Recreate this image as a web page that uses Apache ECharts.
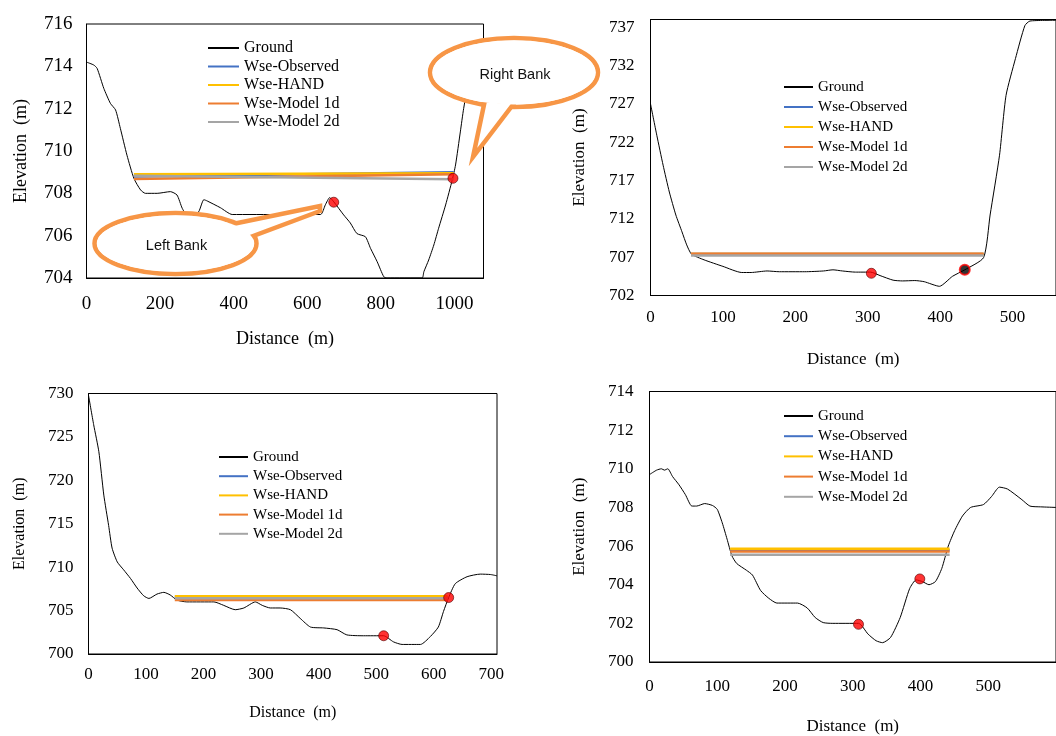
<!DOCTYPE html>
<html>
<head>
<meta charset="utf-8">
<title>Cross sections</title>
<script src="https://cdn.jsdelivr.net/npm/echarts@6/dist/echarts.min.js"></script>
<style>
  html, body { margin: 0; padding: 0; background: #fff; }
  #chart { width: 1056px; height: 736px; }
</style>
</head>
<body>
<div id="chart"></div>
<script>
// ---- section 1 (top left) ----
var p1Dist = [0, 20, 29, 47, 65, 79, 92, 110, 129, 147, 160, 192, 228, 246, 260, 272, 292, 305, 319, 328, 364, 396, 527, 636, 649, 661, 672, 699, 717, 735, 758, 772, 790, 808, 817, 912, 917, 930, 944, 957, 976, 994, 1003, 1016, 1025, 1045, 1065, 1079];
var p1Ground = [714.2, 714.06, 713.9, 712.96, 712.25, 711.94, 711.07, 709.8, 708.7, 708.16, 708.0, 708.0, 708.08, 707.92, 707.3, 707.0, 707.0, 707.13, 707.7, 707.64, 707.32, 707.0, 707.0, 707.0, 707.45, 707.8, 707.6, 706.98, 706.6, 706.1, 705.95, 705.4, 704.77, 704.06, 704.0, 704.0, 704.3, 704.85, 705.56, 706.35, 707.45, 708.63, 709.34, 710.9, 712.0, 713.9, 715.0, 715.3];
var p1Edges = [129, 998];
var p1Observed = [708.79, 709.0];
var p1Hand = [708.9, 708.95];
var p1Model1d = [708.68, 708.9];
var p1Model2d = [708.83, 708.66];
var p1Banks = [[672, 707.58], [996, 708.71]];

// ---- section 2 (top right) ----
var p2Dist = [0, 8.7, 17.4, 26, 35, 43.5, 50, 56.6, 74, 100, 126, 139, 161, 178, 213, 239, 252, 265, 283, 304, 317, 335, 348, 365, 378, 399, 417, 434, 460, 469, 482, 491, 504, 517, 524, 560];
var p2Ground = [727, 722.9, 719.0, 715.5, 712.5, 710.3, 708.6, 707.4, 706.65, 705.8, 705.0, 705.0, 705.2, 705.1, 705.1, 705.2, 705.35, 705.2, 705.05, 705.05, 704.6, 704.0, 703.9, 703.95, 703.8, 703.2, 704.5, 705.35, 706.95, 712.5, 720.3, 728.1, 732.9, 737.2, 737.8, 737.9];
var p2Edges = [56, 460];
var p2Observed = [707.42, 707.42];
var p2Hand = [707.42, 707.42];
var p2Model1d = [707.46, 707.46];
var p2Model2d = [707.22, 707.22];
var p2Banks = [[305, 704.9], [434, 705.35]];

// ---- section 3 (bottom left) ----
var p3Dist = [0, 9, 18, 26.6, 35, 41, 50, 61, 73, 84.5, 96, 105, 119, 131, 142, 154, 171, 218, 235, 255, 270, 290, 302, 316, 333, 351, 368, 386, 409, 432, 449, 478, 513, 530, 545, 577, 594, 608, 617, 626, 637.5, 658, 681, 699, 710];
var p3Ground = [729.8, 726.4, 723.3, 718.3, 714.8, 712.2, 710.6, 709.7, 708.7, 707.6, 706.7, 706.4, 706.9, 707.1, 706.8, 706.2, 706.0, 706.0, 705.6, 705.1, 705.3, 706.0, 705.6, 705.3, 705.3, 705.1, 704.1, 703.1, 703.0, 702.8, 702.2, 702.1, 702.1, 701.4, 701.1, 701.1, 702.0, 703.1, 704.9, 706.5, 708.1, 708.9, 709.2, 709.15, 709.0];
var p3Edges = [150, 624];
var p3Observed = [706.55, 706.55];
var p3Hand = [706.65, 706.65];
var p3Model1d = [706.22, 706.22];
var p3Model2d = [706.42, 706.42];
var p3Banks = [[513, 702.1], [626, 706.5]];

// ---- section 4 (bottom right) ----
var p4Dist = [0, 10.5, 17.6, 22, 27, 34, 43.6, 53, 62.5, 69.5, 81.5, 93, 100, 107.4, 114.5, 121.6, 128.7, 143, 152, 164, 176, 188, 218.5, 232.7, 244.6, 256.4, 270.6, 308.5, 322.7, 334.5, 344, 355.8, 370, 384, 393.6, 403, 412.5, 422, 431.4, 441, 450.4, 462, 474, 493, 505, 516.5, 528.5, 549.7, 561.5, 577, 600];
var p4Ground = [709.7, 709.93, 710.0, 709.93, 710.0, 709.6, 709.17, 708.66, 708.07, 708.07, 708.2, 708.1, 707.9, 707.2, 706.36, 705.5, 705.1, 704.75, 704.5, 703.7, 703.3, 703.05, 703.05, 702.8, 702.3, 702.04, 702.0, 702.0, 701.44, 701.1, 701.0, 701.27, 702.3, 703.8, 704.25, 704.16, 704.0, 704.16, 704.84, 706.0, 706.8, 707.56, 708.0, 708.15, 708.57, 709.05, 708.95, 708.4, 708.07, 708.03, 708.0];
var p4Edges = [119, 443];
var p4Observed = [705.78, 705.78];
var p4Hand = [705.86, 705.86];
var p4Model1d = [705.72, 705.72];
var p4Model2d = [705.55, 705.55];
var p4Banks = [[308.5, 701.95], [399, 704.3]];

var seriesNames = ['Ground', 'Wse-Observed', 'Wse-HAND', 'Wse-Model 1d', 'Wse-Model 2d'];
var wseColors = ['#4472C4', '#FFC000', '#ED7D31', '#A5A5A5'];

var serif = 'Liberation Serif';
var chart = echarts.init(document.getElementById('chart'));

var panels = [
  { dist: p1Dist, ground: p1Ground, edges: p1Edges, wse: [p1Observed, p1Hand, p1Model1d, p1Model2d], banks: p1Banks,
    grid: { left: 86.5, top: 24, width: 397, height: 254 },
    x: { max: 1079, interval: 200 }, y: { min: 704, max: 716, interval: 2 },
    tickSize: 19, nameSize: 18, xMargin: 17, yMargin: 14, xGap: 52, yGap: 56,
    legend: { left: 207, top: 40, itemWidth: 31, gap: 2.5, size: 16 } },
  { dist: p2Dist, ground: p2Ground, edges: p2Edges, wse: [p2Observed, p2Hand, p2Model1d, p2Model2d], banks: p2Banks,
    grid: { left: 650.5, top: 19.5, width: 429.5, height: 276 },
    x: { max: 560, interval: 100 }, y: { min: 702, max: 738, interval: 5 },
    tickSize: 17, nameSize: 17, xMargin: 14, yMargin: 16, xGap: 56, yGap: 62,
    legend: { left: 783, top: 79, itemWidth: 29, gap: 4, size: 15 } },
  { dist: p3Dist, ground: p3Ground, edges: p3Edges, wse: [p3Observed, p3Hand, p3Model1d, p3Model2d], banks: p3Banks,
    grid: { left: 88.5, top: 393.5, width: 408.5, height: 260.5 },
    x: { max: 710, interval: 100 }, y: { min: 700, max: 730, interval: 5 },
    tickSize: 17, nameSize: 16, xMargin: 12, yMargin: 15, xGap: 51, yGap: 61,
    legend: { left: 218, top: 449, itemWidth: 29, gap: 3.2, size: 15 } },
  { dist: p4Dist, ground: p4Ground, edges: p4Edges, wse: [p4Observed, p4Hand, p4Model1d, p4Model2d], banks: p4Banks,
    grid: { left: 649.5, top: 391.5, width: 423, height: 275 },
    x: { max: 600, interval: 100 }, y: { min: 700, max: 714, interval: 2 },
    tickSize: 17, nameSize: 17, xMargin: 16, yMargin: 16, xGap: 56, yGap: 61,
    legend: { left: 783, top: 408, itemWidth: 29, gap: 4.2, size: 15 } }
];

var grids = [], xAxes = [], yAxes = [], series = [], legends = [];

panels.forEach(function (p, i) {
  grids.push(Object.assign({ show: true, borderColor: '#000', borderWidth: 1, containLabel: false }, p.grid));

  xAxes.push({
    gridIndex: i, type: 'value', min: 0, max: p.x.max, interval: p.x.interval,
    name: 'Distance  (m)', nameLocation: 'middle', nameGap: p.xGap,
    nameTextStyle: { fontFamily: serif, fontSize: p.nameSize, color: '#000' },
    axisLine: { show: true, lineStyle: { color: '#000', width: 1 } },
    axisTick: { show: false }, splitLine: { show: false },
    axisLabel: { fontFamily: serif, fontSize: p.tickSize, color: '#000', margin: p.xMargin, showMaxLabel: false,
      formatter: function (v) { return String(v); } }
  });
  yAxes.push({
    gridIndex: i, type: 'value', min: p.y.min, max: p.y.max, interval: p.y.interval,
    name: 'Elevation  (m)', nameLocation: 'middle', nameGap: p.yGap, nameRotate: 90,
    nameTextStyle: { fontFamily: serif, fontSize: p.nameSize, color: '#000' },
    axisLine: { show: true, lineStyle: { color: '#000', width: 1 } },
    axisTick: { show: false }, splitLine: { show: false },
    axisLabel: { fontFamily: serif, fontSize: p.tickSize, color: '#000', margin: p.yMargin, showMaxLabel: i !== 1,
      formatter: function (v) { return String(v); } }
  });

  series.push({
    name: 'Ground', type: 'line', xAxisIndex: i, yAxisIndex: i,
    data: p.dist.map(function (d, k) { return [d, p.ground[k]]; }),
    symbol: 'none', smooth: 0.2, clip: true,
    lineStyle: { color: '#000', width: 1 }, itemStyle: { color: '#000' }, z: 2
  });

  p.wse.forEach(function (vals, k) {
    series.push({
      name: seriesNames[k + 1], type: 'line', xAxisIndex: i, yAxisIndex: i,
      data: [[p.edges[0], vals[0]], [p.edges[1], vals[1]]],
      symbol: 'none',
      lineStyle: { color: wseColors[k], width: 2.5 }, itemStyle: { color: wseColors[k] }, z: 3 + k
    });
  });

  series.push({
    name: 'banks', type: 'scatter', xAxisIndex: i, yAxisIndex: i,
    data: p.banks.map(function (b, k) {
      var black = (i === 1 && k === 1);
      return { value: b, itemStyle: { color: black ? '#000' : '#FF0000', borderColor: black ? '#FF0000' : '#5a0000', borderWidth: black ? 2 : 0.8 } };
    }),
    symbolSize: 10, z: 10, silent: true
  });

  legends.push({
    data: seriesNames, orient: 'vertical', left: p.legend.left, top: p.legend.top,
    padding: 0, itemWidth: p.legend.itemWidth, itemHeight: 10, itemGap: p.legend.gap,
    selectedMode: false,
    itemStyle: { opacity: 0, borderWidth: 0 },
    textStyle: { fontFamily: serif, fontSize: p.legend.size, lineHeight: 16, color: '#000', padding: [0, 0, 0, 0] }
  });
});

// speech-bubble callouts
var calloutColor = '#F79646';
function bubble(cx, cy, rx, ry, tail, label, base) {
  return [
    { type: 'ellipse', z: base, shape: { cx: cx, cy: cy, rx: rx, ry: ry }, style: { fill: '#fff', stroke: calloutColor, lineWidth: 4.5 } },
    { type: 'polygon', z: base + 1, shape: { points: tail }, style: { fill: '#fff', stroke: calloutColor, lineWidth: 4.5, lineJoin: 'miter' } },
    { type: 'ellipse', z: base + 2, shape: { cx: cx, cy: cy, rx: rx - 2.5, ry: ry - 2.5 }, style: { fill: '#fff' } },
    { type: 'text', z: base + 3, x: cx + 1, y: cy + 2, style: { text: label, fill: '#111', font: '14.5px "Liberation Sans"', align: 'center', verticalAlign: 'middle' } }
  ];
}

var graphics = []
  .concat(bubble(175.5, 243.5, 81, 30.5, [[223, 226], [320, 206], [320, 211], [245, 239]], 'Left Bank', 100))
  .concat(bubble(514, 72.5, 84, 34.5, [[485, 100], [473, 157], [515, 102]], 'Right Bank', 110));

chart.setOption({
  animation: false,
  backgroundColor: '#fff',
  grid: grids,
  xAxis: xAxes,
  yAxis: yAxes,
  legend: legends,
  series: series,
  graphic: { elements: graphics }
});
</script>
</body>
</html>
